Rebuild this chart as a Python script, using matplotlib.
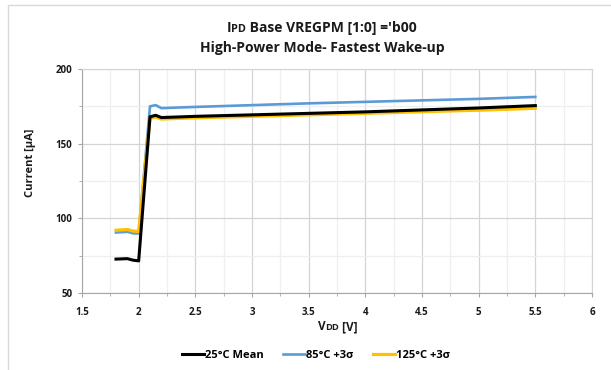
import matplotlib
matplotlib.use("Agg")
import matplotlib.pyplot as plt
from matplotlib.patches import Rectangle
from matplotlib.ticker import MultipleLocator
from matplotlib.offsetbox import TextArea, HPacker, VPacker, AnchoredOffsetbox

# VDD sweep points [V]
vdd = [1.8, 1.9, 1.95, 2.0, 2.1, 2.15, 2.2, 2.5, 3.0, 3.5, 4.0, 4.5, 5.0, 5.5]

# current [uA]
mean_25c = [72.7, 73.0, 72.0, 71.5, 168.0, 169.0, 167.5, 168.3, 169.3, 170.3, 171.3, 172.6, 173.9, 175.5]
sigma_85c = [90.5, 91.0, 90.0, 89.8, 175.0, 175.8, 173.8, 174.6, 175.8, 177.0, 178.0, 179.0, 180.0, 181.3]
sigma_125c = [92.0, 92.5, 91.5, 91.2, 167.0, 167.8, 166.5, 167.3, 168.3, 169.3, 170.3, 171.4, 172.4, 173.7]

labels = ["25°C Mean", "85°C +3σ", "125°C +3σ"]
colors = ["#000000", "#5B9BD5", "#FFC000"]

plt.rcParams["font.family"] = ["Open Sans", "DejaVu Sans"]
plt.rcParams["font.weight"] = "bold"


def small_caps(parts, size):
    # parts: list of (text, is_small)
    boxes = []
    for txt, small in parts:
        boxes.append(TextArea(txt, textprops=dict(fontsize=size * 0.78 if small else size,
                                                  fontweight="bold", color="#1a1a1a")))
    return HPacker(children=boxes, align="baseline", pad=0, sep=0)


fig = plt.figure(figsize=(6.11, 3.70), dpi=100)
ax = fig.add_axes([0.1342, 0.2081, 0.8347, 0.6054])

ax.plot(vdd, mean_25c, color=colors[0], lw=2.2, label=labels[0], solid_joinstyle="round", zorder=4)
ax.plot(vdd, sigma_85c, color=colors[1], lw=1.9, label=labels[1], solid_joinstyle="round", zorder=3)
ax.plot(vdd, sigma_125c, color=colors[2], lw=2.3, label=labels[2], solid_joinstyle="round", zorder=3)

ax.set_xlim(1.5, 6)
ax.set_ylim(50, 200)
ax.xaxis.set_major_locator(MultipleLocator(0.5))
ax.xaxis.set_minor_locator(MultipleLocator(0.25))
ax.yaxis.set_major_locator(MultipleLocator(50))
ax.yaxis.set_minor_locator(MultipleLocator(25))
ax.xaxis.set_major_formatter(plt.FuncFormatter(lambda v, p: f"{v:g}"))

ax.grid(which="major", color="#D4D4D4", lw=0.9)
ax.grid(which="minor", color="#EFEFEF", lw=0.9)
ax.set_axisbelow(True)
for side in ["top", "right"]:
    ax.spines[side].set_color("#D4D4D4")
for side in ["left", "bottom"]:
    ax.spines[side].set_color("#A6A6A6")
ax.tick_params(which="both", length=3, color="#A6A6A6", labelsize=7, pad=4,
               labelcolor="#1a1a1a")
ax.tick_params(which="minor", length=2)
ax.tick_params(axis="x", pad=7)

ax.set_ylabel("Current [µA]", fontsize=8, fontweight="bold", color="#1a1a1a")
ax.yaxis.set_label_coords(-0.09, 0.58)

# x label with small caps "DD"
xlab = small_caps([("V", False), ("DD", True), (" [V]", False)], 8.5)
fig.add_artist(AnchoredOffsetbox(loc="center", child=xlab, pad=0, frameon=False,
                                 bbox_to_anchor=(0.553, 1 - 327 / 370),
                                 bbox_transform=fig.transFigure, borderpad=0))

# two-line title, first line with small caps "PD"
t1 = small_caps([("I", False), ("PD", True), (" Base VREGPM [1:0] ='b00", False)], 10)
t2 = small_caps([("High-Power Mode- Fastest Wake-up", False)], 10)
title = VPacker(children=[t1, t2], align="center", pad=0, sep=5)
fig.add_artist(AnchoredOffsetbox(loc="center", child=title, pad=0, frameon=False,
                                 bbox_to_anchor=(0.527, 1 - 38 / 370),
                                 bbox_transform=fig.transFigure, borderpad=0))

fig.legend(loc="center", bbox_to_anchor=(0.517, 1 - 355 / 370), ncol=3, frameon=False,
           handlelength=2.0, handletextpad=0.1, columnspacing=1.7,
           prop={"weight": "bold", "size": 8})

# chart area border (only top and left fall inside the picture)
fig.patches.append(Rectangle((8 / 611, -0.05), 1.1, 1 - 5 / 370 + 0.05,
                             transform=fig.transFigure, fill=False,
                             edgecolor="#D9D9D9", lw=1))

fig.savefig("out.png", dpi=100)
